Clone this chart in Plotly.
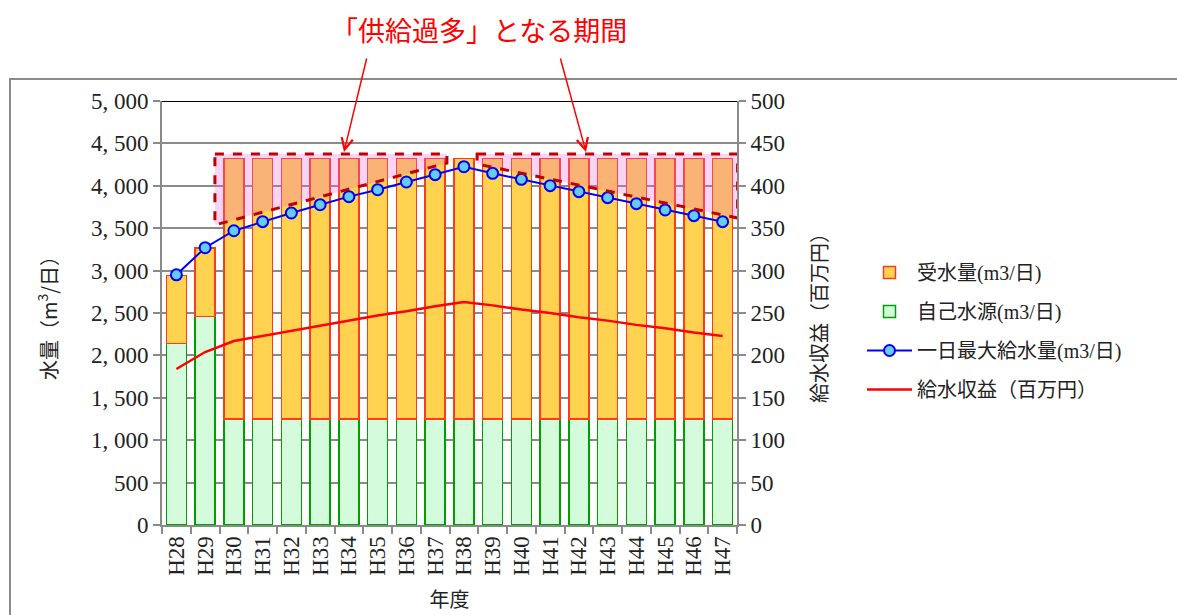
import plotly.graph_objects as go

# 年度ラベル
years = ["H28", "H29", "H30", "H31", "H32", "H33", "H34", "H35", "H36", "H37",
         "H38", "H39", "H40", "H41", "H42", "H43", "H44", "H45", "H46", "H47"]

# 自己水源 (m3/日)
self_supply = [2140, 2460, 1250, 1250, 1250, 1250, 1250, 1250, 1250, 1250,
               1250, 1250, 1250, 1250, 1250, 1250, 1250, 1250, 1250, 1250]

# 受水量 (m3/日)
received = [805, 805, 3070, 3070, 3070, 3070, 3070, 3070, 3070, 3070,
            3070, 3070, 3070, 3070, 3070, 3070, 3070, 3070, 3070, 3070]

# 一日最大給水量 (m3/日)
max_daily = [2950, 3270, 3470, 3577, 3679, 3777, 3872, 3954, 4045, 4131,
             4225, 4147, 4076, 4002, 3931, 3860, 3789, 3715, 3648, 3577]

# 給水収益 (百万円)
revenue = [184, 204, 217, 223, 229, 235, 241, 247, 252, 258,
           263, 259, 254, 250, 245, 241, 236, 232, 227, 223]

left_ticks = list(range(0, 5001, 500))
right_ticks = list(range(0, 501, 50))

W, H = 1177, 615
L, R, T, B = 162, 737, 101, 525  # plot area in pixels


def px_x(p):
    return (p - L) / (R - L)


def px_y(p):
    return (B - p) / (B - T)


LAT = "Liberation Serif, Noto Sans CJK JP, serif"
CJK = "Noto Sans CJK JP, sans-serif"
GRAY = "#8a8a8a"

fig = go.Figure()

# self supply at the bottom of each stack, received water on top
fig.add_trace(go.Bar(
    x=years, y=self_supply, name="自己水源(m3/日)",
    marker=dict(color="#D4FCDC", line=dict(color="#00A000", width=1.5)),
    legendrank=2, legendgroup="b",
))
fig.add_trace(go.Bar(
    x=years, y=received, name="受水量(m3/日)",
    marker=dict(color="#FFD24F", line=dict(color="#FF3B1F", width=1.5)),
    legendrank=1, legendgroup="a",
))
fig.add_trace(go.Scatter(
    x=years, y=max_daily, name="一日最大給水量(m3/日)", mode="lines+markers",
    line=dict(color="#0000FF", width=2),
    marker=dict(size=11, color="#66CCF5", line=dict(color="#0000FF", width=2)),
    legendrank=3, legendgroup="c",
))
fig.add_trace(go.Scatter(
    x=years, y=revenue, name="給水収益（百万円）", mode="lines",
    line=dict(color="#FF0000", width=2.5), yaxis="y2",
    legendrank=4, legendgroup="d",
))

shapes = []
# outer frame of the chart
shapes.append(dict(type="rect", xref="paper", yref="paper",
                   x0=px_x(10), x1=px_x(W + 5), y0=px_y(H + 5), y1=px_y(79),
                   line=dict(color=GRAY, width=2), fillcolor="rgba(0,0,0,0)",
                   layer="below"))
# top border of the plot area
shapes.append(dict(type="line", xref="x", yref="y", x0=-0.5, x1=19.5,
                   y0=5000, y1=5000, line=dict(color="black", width=2)))

# oversupply periods
over_fill = "rgba(232,100,215,0.28)"
over_line = dict(color="#C00000", width=3, dash="dash")
shapes.append(dict(type="path", xref="x", yref="y",
                   path="M1.34,4375 L9.41,4375 L9.41,4269 L1.34,3538 Z",
                   fillcolor=over_fill, line=over_line, layer="above"))
shapes.append(dict(type="path", xref="x", yref="y",
                   path="M10.46,4375 L19.52,4375 L19.52,3620 L10.46,4257 Z",
                   fillcolor=over_fill, line=over_line, layer="above"))

annotations = [
    dict(text="「供給過多」となる期間", xref="paper", yref="paper",
         x=px_x(479), y=px_y(30), xanchor="center", yanchor="middle",
         showarrow=False,
         font=dict(family=CJK, size=27, color="#FF0000")),
    dict(text="", xref="paper", yref="paper", x=px_x(344), y=px_y(152),
         ax=23, ay=-95, showarrow=True, arrowhead=5, arrowsize=1.5,
         arrowwidth=1.5, arrowcolor="#FF0000", standoff=0),
    dict(text="", xref="paper", yref="paper", x=px_x(586), y=px_y(152),
         ax=-26, ay=-95, showarrow=True, arrowhead=5, arrowsize=1.5,
         arrowwidth=1.5, arrowcolor="#FF0000", standoff=0),
]

fig.update_layout(
    width=W, height=H,
    margin=dict(l=L, r=W - R, t=T, b=H - B, autoexpand=False),
    paper_bgcolor="white", plot_bgcolor="white",
    barmode="stack", bargap=0.3,
    font=dict(family=LAT, size=20, color="#222222"),
    showlegend=True,
    legend=dict(x=px_x(862), y=px_y(253), xanchor="left", yanchor="top",
                font=dict(family=LAT, size=20, color="#222222"),
                itemwidth=45, tracegroupgap=10, bgcolor="rgba(0,0,0,0)"),
    xaxis=dict(
        type="category", range=[-0.5, 19.5], tickangle=-90,
        tickson="boundaries", ticks="outside", ticklen=7, tickcolor=GRAY,
        tickwidth=1.5, showline=True, linecolor=GRAY, linewidth=2,
        showgrid=False, tickfont=dict(family=LAT, size=23),
        title=dict(text="年度", standoff=18, font=dict(family=CJK, size=20)),
    ),
    yaxis=dict(
        range=[0, 5000], tickmode="array", tickvals=left_ticks,
        ticktext=[f"{v:,}".replace(",", ", ") for v in left_ticks],
        ticks="outside", ticklen=7, tickcolor=GRAY, tickwidth=1.5,
        showline=True, linecolor=GRAY, linewidth=2,
        showgrid=True, gridcolor=GRAY, gridwidth=1.5, zeroline=False,
        tickfont=dict(family=LAT, size=23),
        title=dict(text="水量（m<sup>3</sup>/日）", standoff=28,
                   font=dict(family=CJK, size=20)),
    ),
    yaxis2=dict(
        range=[0, 500], overlaying="y", side="right", tickmode="array",
        tickvals=right_ticks, ticks="outside", ticklen=7, tickcolor=GRAY,
        tickwidth=1.5, showline=True, linecolor=GRAY, linewidth=2,
        showgrid=False, zeroline=False, tickfont=dict(family=LAT, size=23),
        title=dict(text="給水収益（百万円）", standoff=29,
                   font=dict(family=CJK, size=20)),
    ),
    shapes=shapes,
    annotations=annotations,
)

fig.write_html("out.html")
